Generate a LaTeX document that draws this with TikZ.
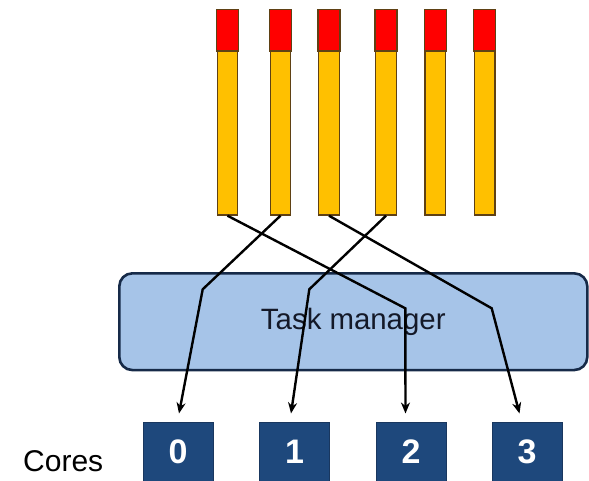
\documentclass[tikz,border=0pt]{standalone}
\usepackage{fontspec}
\setmainfont{Liberation Sans}
\usetikzlibrary{arrows.meta,calc}
\definecolor{barred}{RGB}{255,0,0}
\definecolor{baryellow}{RGB}{255,192,0}
\definecolor{baredge}{RGB}{95,65,20}
\definecolor{tmfill}{RGB}{166,196,232}
\definecolor{tmedge}{RGB}{22,42,72}
\definecolor{corefill}{RGB}{30,72,124}
\definecolor{coreedge}{RGB}{25,55,95}
\definecolor{tmtext}{RGB}{20,25,40}
\tikzset{
  barbox/.style={draw=baredge, line width=1.4pt, fill=baryellow, minimum width=20.5pt, minimum height=205pt, inner sep=0pt},
  redtop/.style={draw=baredge, line width=1.4pt, fill=barred},
  tmbox/.style={draw=tmedge, line width=2.6pt, fill=tmfill, rounded corners=13pt, minimum width=468pt, minimum height=96.7pt, inner sep=0pt, text=tmtext, font=\fontsize{29.4}{35}\selectfont},
  corebox/.style={draw=coreedge, line width=0.8pt, fill=corefill, minimum width=70pt, minimum height=58.3pt, inner sep=0pt, text=white, font=\fontsize{34}{40}\selectfont\bfseries},
  conn/.style={line width=2.4pt, -{Stealth[length=11pt,width=9pt]}},
}
\begin{document}
\begin{tikzpicture}[x=1pt,y=-1pt]
\useasboundingbox (0,0) rectangle (589,481);
% bars
\foreach \i/\x in {1/227.5,2/280.5,3/329,4/386,5/435.3,6/484.7}{
  \node[barbox] (bar\i) at (\x,112.5) {};
  \draw[redtop] (bar\i.north west) rectangle ($(bar\i.north east)+(0,41.7)$);
}
% task manager
\node[tmbox] (tm) at (353.3,321.7) {Task manager};
% cores
\node[corebox] (c0) at (178,451.9) {0};
\node[corebox] (c1) at (294.6,451.9) {1};
\node[corebox] (c2) at (411,451.9) {2};
\node[corebox] (c3) at (527,451.9) {3};
\node[anchor=base west, inner sep=0pt, font=\fontsize{30}{36}\selectfont] (cores) at (23,471) {Cores};
% bend points and arrow tips
\coordinate (b0) at (202.7,289.3);
\coordinate (b1) at (309.3,289.3);
\coordinate (b2) at (405.3,308.3);
\coordinate (b3) at (491.7,308.3);
\coordinate (t0) at (179,413.5);
\coordinate (t1) at (291,413.5);
\coordinate (t2) at (405.5,413.5);
\coordinate (t3) at (519.5,413.5);
% connectors
\draw[conn] (bar1.south) -- (b2) -- (t2);
\draw[conn] (bar2.south) -- (b0) -- (t0);
\draw[conn] (bar3.south) -- (b3) -- (t3);
\draw[conn] (bar4.south) -- (b1) -- (t1);
\end{tikzpicture}
\end{document}
